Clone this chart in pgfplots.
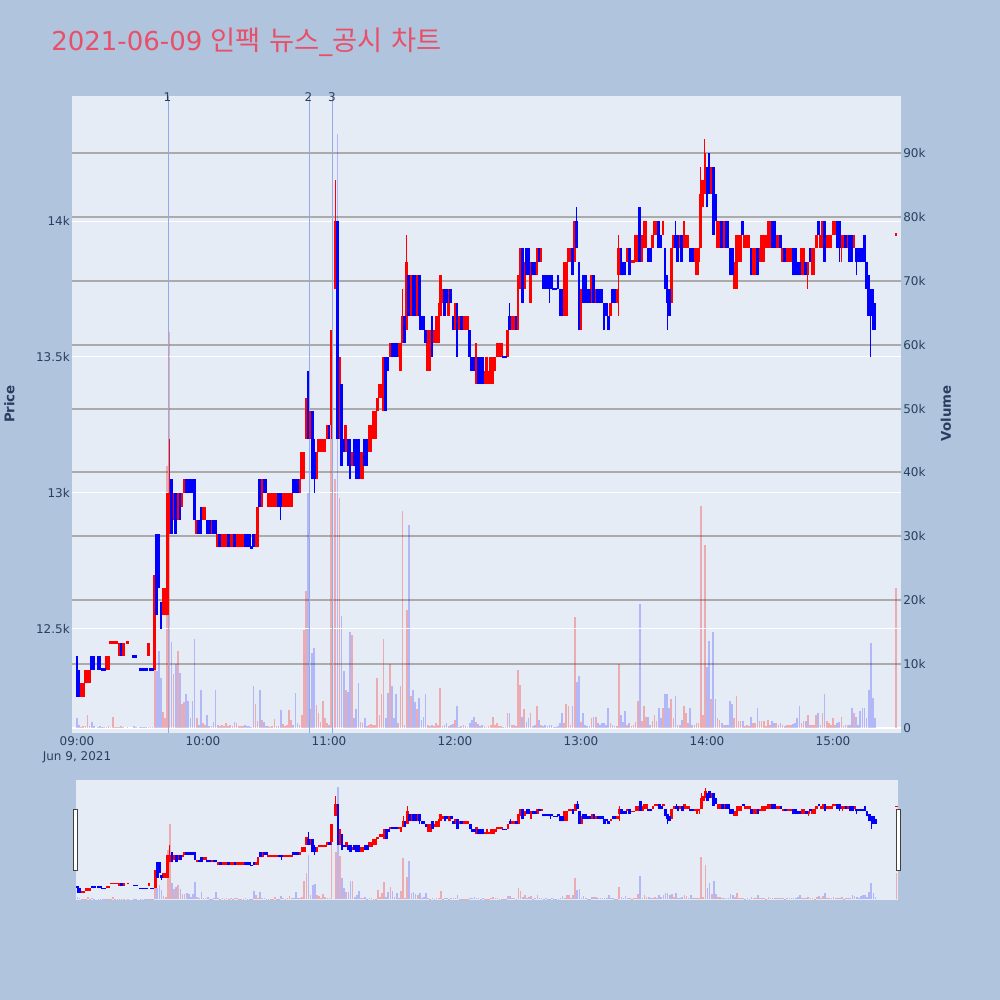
\documentclass[border=0pt]{standalone}
\usepackage{pgfplots}
\pgfplotsset{compat=1.18}
\usepackage{pgfplotstable}
\usepackage{fontspec}
\setmainfont{DejaVu Sans}
\newfontfamily\cjk{Noto Sans CJK KR}
\definecolor{paper}{HTML}{B0C4DE}
\definecolor{plotbg}{HTML}{E5ECF6}
\definecolor{tickc}{HTML}{2A3F5F}
\definecolor{gridg}{HTML}{ABABAB}
\definecolor{titlec}{HTML}{E8506A}
\definecolor{vlinec}{HTML}{94AAE6}
\definecolor{upc}{HTML}{FF0000}
\definecolor{dnc}{HTML}{0000FF}

\pgfplotstableread{
t o h l c d v
0 12400 12400 12250 12350 -1 1.5
1 12350 12350 12250 12250 -1 0.5
2 12250 12300 12250 12300 1 0.2
3 12250 12300 12250 12300 1 0.3
4 12300 12350 12300 12350 1 0.3
5 12300 12350 12300 12350 1 2.0
6 12300 12350 12300 12350 1 0.3
7 12400 12400 12350 12350 -1 1.0
8 12400 12400 12350 12350 -1 0.3
10 12400 12400 12350 12350 -1 0.2
11 12400 12400 12350 12350 -1 0.3
12 12350 12350 12350 12350 -1 0.1
13 12350 12350 12350 12350 -1 0.1
14 12350 12400 12350 12400 1 0.2
15 12350 12400 12350 12400 1 0.3
16 12450 12450 12450 12450 1 0.1
17 12450 12450 12450 12450 1 1.8
18 12450 12450 12450 12450 1 0.1
19 12450 12450 12450 12450 1 0.1
20 12400 12450 12400 12450 1 0.2
21 12450 12450 12400 12400 -1 0.3
22 12400 12450 12400 12450 1 0.1
24 12450 12450 12450 12450 1 0.1
27 12400 12400 12400 12400 -1 0.3
28 12400 12400 12400 12400 -1 0.1
30 12350 12350 12350 12350 -1 0.1
31 12350 12350 12350 12350 -1 0.1
32 12350 12350 12350 12350 -1 0.1
33 12350 12350 12350 12350 -1 0.1
34 12400 12450 12400 12450 1 0.2
35 12350 12350 12350 12350 -1 0.1
36 12350 12350 12350 12350 -1 0.1
37 12350 12700 12350 12700 1 15
38 12850 12850 12550 12550 -1 9
39 12850 12850 12650 12650 -1 12
40 12600 12600 12500 12550 -1 7.8
41 12550 12650 12550 12650 1 2.5
42 12550 12650 12550 12650 1 1.5
43 12550 13000 12550 13000 1 41
44 12850 13200 12850 13000 1 62
45 13050 13050 12850 12850 -1 13.5
46 12900 13000 12900 13000 1 8.5
47 13000 13000 12850 12850 -1 10
48 12900 13000 12900 13000 1 12
49 13000 13000 12900 12900 -1 8.6
50 12950 13000 12950 13000 1 3.8
51 13000 13050 13000 13050 1 4
52 13050 13050 13000 13000 -1 5.4
53 13050 13050 13000 13000 -1 4.3
54 13050 13050 13000 13000 -1 1.5
55 13050 13050 13000 13000 -1 4.3
56 13050 13050 12900 12900 -1 14
57 12850 12900 12850 12900 1 1.5
58 12900 12900 12850 12850 -1 0.5
59 12950 12950 12850 12850 -1 6
60 12900 12950 12900 12950 1 0.8
61 12900 12950 12900 12950 1 0.5
62 12900 12900 12850 12850 -1 2
63 12900 12900 12850 12850 -1 0.3
64 12850 12900 12850 12900 1 0.3
65 12900 12900 12850 12850 -1 1.0
66 12900 12900 12850 12850 -1 6
67 12800 12850 12800 12850 1 0.5
68 12850 12850 12800 12800 -1 0.3
69 12800 12850 12800 12850 1 0.5
70 12800 12850 12800 12850 1 0.3
71 12800 12850 12800 12850 1 0.8
72 12850 12850 12800 12800 -1 0.3
73 12800 12850 12800 12850 1 0.5
74 12800 12850 12800 12850 1 0.3
75 12850 12850 12800 12800 -1 1.0
76 12800 12850 12800 12850 1 0.8
77 12800 12850 12800 12850 1 0.3
78 12800 12850 12800 12850 1 0.3
79 12800 12850 12800 12850 1 0.3
80 12850 12850 12800 12800 -1 0.5
81 12850 12850 12800 12800 -1 0.3
82 12850 12850 12800 12800 -1 0.3
83 12800 12800 12800 12800 -1 0.2
84 12850 12850 12800 12800 -1 6.6
85 12800 12850 12800 12850 1 3.7
86 12800 12950 12800 12950 1 1.1
87 13050 13050 12950 12950 -1 6
88 12950 13050 12950 13050 1 1.2
89 13050 13050 13000 13000 -1 0.9
90 13050 13050 13000 13000 -1 0.3
91 12950 13000 12950 13000 1 0.3
92 12950 13000 12950 13000 1 0.2
93 12950 13000 12950 13000 1 0.3
94 12950 13000 12950 13000 1 1.4
95 12950 13000 12950 13000 1 0.3
96 13000 13000 12950 12950 -1 0.3
97 13000 13000 12900 12950 -1 2.8
98 12950 13000 12950 13000 1 0.6
99 12950 13000 12950 13000 1 0.3
100 12950 13000 12950 13000 1 0.5
101 12950 13000 12950 13000 1 2.8
102 12950 13000 12950 13000 1 1.2
103 13050 13050 13000 13000 -1 0.5
104 13050 13050 13000 13000 -1 5.5
105 13050 13050 13000 13000 -1 0.8
106 13000 13050 13000 13050 1 0.5
107 13050 13150 13050 13150 1 2
108 13050 13150 13050 13150 1 15.3
109 13200 13350 13200 13350 1 21.5
110 13300 13450 13200 13200 -1 36.8
111 13200 13300 13200 13300 1 3
112 13300 13300 13050 13050 -1 11.7
113 13150 13200 13000 13050 -1 12.6
114 13050 13150 13050 13150 1 3.6
115 13150 13200 13150 13200 1 2.4
116 13150 13200 13150 13200 1 1
117 13150 13200 13150 13200 1 4.2
118 13150 13200 13150 13200 1 1.5
119 13200 13250 13200 13250 1 0.8
120 13250 13250 13200 13200 -1 0.5
121 13250 13600 13200 13600 1 55
123 13750 14150 13750 14000 1 39
124 14000 14000 13200 13200 -1 93
125 13200 13500 13200 13500 1 36
126 13400 13400 13100 13100 -1 17.5
127 13200 13200 13150 13150 -1 8.9
128 13150 13250 13150 13250 1 6
129 13200 13200 13100 13100 -1 5.6
130 13200 13200 13050 13050 -1 15
131 13100 13150 13100 13150 1 14.6
132 13200 13200 13100 13100 -1 1.5
133 13200 13200 13050 13050 -1 3
134 13200 13200 13050 13050 -1 7
135 13050 13150 13050 13150 1 1
136 13050 13150 13050 13150 1 0.8
137 13200 13200 13100 13100 -1 1.5
138 13200 13200 13100 13100 -1 0.3
139 13150 13250 13150 13250 1 0.5
140 13150 13250 13150 13250 1 0.6
141 13200 13300 13200 13300 1 0.4
142 13200 13300 13200 13300 1 0.4
143 13300 13350 13300 13350 1 7.9
144 13350 13400 13350 13400 1 2
145 13350 13400 13350 13400 1 5.3
146 13300 13500 13300 13500 1 14
147 13500 13500 13300 13300 -1 1.5
148 13500 13500 13450 13450 -1 5.5
149 13500 13550 13500 13550 1 10
150 13550 13550 13500 13500 -1 6.6
151 13550 13550 13500 13500 -1 1.5
152 13550 13550 13500 13500 -1 5.3
153 13500 13550 13500 13550 1 0.8
154 13450 13550 13450 13550 1 6.6
155 13550 13750 13550 13650 1 34
156 13650 13650 13550 13550 -1 0.5
157 13600 13950 13600 13850 1 18.5
158 13800 13800 13650 13650 -1 31.8
159 13650 13800 13650 13800 1 5
160 13800 13800 13650 13650 -1 6
161 13800 13800 13650 13650 -1 4
162 13650 13800 13650 13800 1 3
163 13800 13800 13600 13650 -1 4.7
164 13650 13650 13600 13600 -1 1.2
165 13650 13650 13600 13600 -1 1.8
166 13600 13600 13550 13550 -1 5.3
167 13450 13600 13450 13600 1 0.5
168 13450 13600 13450 13600 1 0.3
169 13650 13650 13500 13500 -1 0.5
170 13550 13600 13550 13600 1 0.3
171 13550 13650 13550 13650 1 0.8
172 13550 13700 13550 13650 1 0.5
173 13650 13800 13650 13800 1 6.3
174 13700 13750 13700 13750 1 0.3
175 13750 13750 13650 13650 -1 0.5
176 13750 13750 13700 13700 -1 0.8
177 13650 13750 13650 13750 1 0.3
178 13750 13750 13700 13700 -1 0.5
179 13650 13650 13600 13600 -1 0.6
180 13600 13700 13600 13700 1 1.2
181 13700 13700 13500 13500 -1 3.4
182 13600 13650 13600 13650 1 0.2
183 13650 13650 13600 13600 -1 0.3
184 13600 13650 13600 13650 1 0.4
185 13600 13650 13600 13650 1 0.3
186 13600 13650 13600 13650 1 0.2
187 13600 13600 13500 13500 -1 0.8
188 13500 13500 13450 13450 -1 1.2
189 13500 13500 13450 13450 -1 1.7
190 13400 13550 13400 13550 1 1
191 13500 13500 13400 13400 -1 0.6
192 13500 13500 13400 13400 -1 0.3
193 13500 13500 13400 13400 -1 0.5
194 13400 13450 13400 13450 1 0.3
195 13400 13500 13400 13500 1 0.2
196 13400 13450 13400 13450 1 0.3
197 13400 13500 13400 13500 1 0.5
198 13400 13500 13400 13500 1 1.8
199 13450 13500 13450 13500 1 0.5
200 13500 13550 13500 13550 1 0.8
201 13500 13550 13500 13550 1 0.3
202 13500 13550 13500 13550 1 0.3
203 13500 13500 13500 13500 -1 0.2
204 13500 13500 13500 13500 -1 0.2
205 13500 13600 13500 13600 1 2.4
206 13650 13700 13600 13600 -1 2.4
207 13600 13650 13600 13650 1 0.5
208 13600 13650 13600 13650 1 0.5
209 13650 13650 13600 13600 -1 0.3
210 13600 13800 13600 13800 1 9.1
211 13750 13900 13750 13900 1 6.8
212 13900 13900 13700 13700 -1 1.8
213 13750 13850 13750 13850 1 3
214 13900 13900 13800 13800 -1 1
215 13900 13900 13800 13800 -1 1.5
216 13700 13850 13700 13850 1 2.3
217 13850 13850 13800 13800 -1 0.3
218 13850 13850 13800 13800 -1 0.5
219 13800 13900 13800 13900 1 3.4
220 13900 13900 13850 13850 -1 1.2
221 13850 13900 13850 13900 1 0.5
222 13800 13800 13750 13750 -1 0.3
223 13800 13800 13750 13750 -1 0.5
224 13800 13800 13750 13750 -1 0.3
225 13800 13800 13700 13750 -1 0.4
226 13800 13800 13750 13750 -1 0.5
227 13750 13750 13750 13750 -1 0.2
228 13750 13750 13750 13750 -1 0.2
229 13800 13800 13750 13750 -1 0.3
230 13750 13750 13650 13650 -1 0.8
231 13750 13750 13650 13650 -1 2.4
232 13650 13850 13650 13850 1 0.8
233 13650 13850 13650 13850 1 3.7
234 13850 13900 13850 13900 1 3.4
235 13850 13900 13850 13900 1 0.5
236 13900 13900 13800 13800 -1 3.4
237 13850 14000 13850 14000 1 17.4
238 14000 14050 13900 13900 -1 7.2
239 13850 13850 13600 13600 -1 8.2
240 13600 13750 13600 13750 1 1
241 13800 13800 13700 13700 -1 2.4
242 13800 13800 13700 13700 -1 0.5
243 13750 13750 13700 13700 -1 0.3
244 13750 13750 13700 13700 -1 0.3
245 13700 13800 13700 13800 1 1.5
246 13800 13800 13700 13700 -1 1.8
247 13700 13750 13700 13750 1 1.8
248 13750 13750 13700 13700 -1 0.8
249 13750 13750 13700 13700 -1 0.5
250 13750 13750 13700 13700 -1 0.8
251 13700 13700 13600 13600 -1 0.8
252 13700 13700 13650 13650 -1 0.5
253 13650 13650 13600 13600 -1 3.1
254 13650 13700 13650 13700 1 0.8
255 13750 13750 13700 13700 -1 0.5
256 13750 13750 13700 13700 -1 0.3
257 13700 13750 13700 13750 1 0.3
258 13800 13950 13650 13900 1 10
259 13900 13900 13800 13800 -1 2
260 13850 13850 13800 13800 -1 1
261 13850 13850 13800 13800 -1 2.7
262 13850 13900 13850 13900 1 0.5
263 13900 13900 13800 13800 -1 0.8
264 13850 13850 13850 13850 1 0.3
265 13850 13850 13850 13850 1 0.5
266 13850 13950 13850 13950 1 1
267 13850 13950 13850 13950 1 4.3
268 14050 14050 13850 13850 -1 19.4
269 13850 13950 13850 13950 1 1.1
270 13900 14000 13900 14000 1 3.4
271 13900 14000 13900 14000 1 1.8
272 13900 13900 13850 13850 -1 1.8
273 13900 13900 13850 13850 -1 0.5
274 13900 13950 13900 13950 1 1.1
275 13950 14000 13950 14000 1 2.1
276 13950 14000 13950 14000 1 1.1
277 14000 14000 13900 13900 -1 3.1
278 13950 13950 13900 13900 -1 1.5
279 13950 14000 13950 14000 1 3.1
280 13900 13900 13750 13750 -1 5.3
281 13800 13800 13600 13700 -1 5.3
282 13750 13750 13650 13650 -1 3.1
283 13700 13900 13700 13900 1 4.6
284 13900 13950 13900 13950 1 1.5
285 13950 14000 13900 13900 -1 5
286 13950 13950 13850 13850 -1 0.5
287 13900 13950 13900 13950 1 0.5
288 13950 13950 13850 13850 -1 1.3
289 13900 14000 13900 14000 1 3.4
290 13900 13950 13900 13950 1 2.4
291 13900 13950 13900 13950 1 0.8
292 13900 13900 13850 13850 -1 3.1
293 13900 13900 13850 13850 -1 0.5
294 13850 13900 13850 13900 1 0.5
295 13800 13900 13800 13900 1 0.8
296 13850 13900 13800 13900 1 0.8
297 13900 14200 13900 14100 1 34.7
298 14050 14150 14050 14150 1 2.1
299 14100 14300 14100 14250 1 28.6
300 14200 14200 14050 14050 -1 9.5
301 14250 14250 14100 14100 -1 13.6
302 14100 14200 14100 14200 1 4.6
303 14200 14200 13950 13950 -1 15
304 14100 14100 14000 14000 -1 4.6
305 13900 14000 13900 14000 1 1.5
306 13900 14000 13900 14000 1 1.3
307 14000 14000 13900 13900 -1 0.8
308 13900 14000 13900 14000 1 0.5
309 14000 14000 13900 13900 -1 0.5
310 14000 14000 13900 13900 -1 0.5
311 13900 13900 13800 13800 -1 4.3
312 13900 13900 13800 13800 -1 3.7
313 13750 13850 13750 13850 1 1.5
314 13750 13950 13750 13950 1 5
315 13850 13950 13850 13950 1 1.1
316 13850 13950 13850 13950 1 1.1
317 14000 14000 13950 13950 -1 1.1
318 13900 13950 13900 13950 1 0.3
319 13900 13950 13900 13950 1 0.5
320 13900 13950 13900 13950 1 0.3
321 13900 13900 13800 13800 -1 1.8
322 13800 13900 13800 13900 1 0.8
323 13800 13900 13800 13900 1 0.8
324 13900 13900 13800 13800 -1 3.1
325 13850 13900 13850 13900 1 1.1
326 13850 13950 13850 13950 1 1.1
327 13850 13950 13850 13950 1 1.1
328 13900 13950 13900 13950 1 0.3
329 13900 14000 13900 14000 1 1.3
330 13900 14000 13900 14000 1 0.5
331 14000 14000 13900 13900 -1 1.1
332 14000 14000 13900 13900 -1 0.8
333 13900 13950 13900 13950 1 0.8
334 13900 13950 13900 13950 1 0.5
335 13950 13950 13900 13900 -1 0.8
336 13850 13900 13850 13900 1 0.5
337 13900 13900 13850 13850 -1 0.3
338 13850 13900 13850 13900 1 0.5
339 13850 13900 13850 13900 1 0.5
340 13850 13900 13850 13900 1 0.5
341 13900 13900 13800 13800 -1 0.6
342 13900 13900 13800 13800 -1 0.8
343 13850 13850 13800 13800 -1 1.5
344 13850 13850 13800 13800 -1 3.4
345 13800 13900 13800 13900 1 0.8
346 13800 13900 13800 13900 1 1.1
347 13850 13850 13800 13800 -1 1.1
348 13800 13850 13750 13850 1 2.1
349 13900 13900 13850 13850 -1 0.5
350 13800 13900 13800 13900 1 0.5
351 13800 13900 13800 13900 1 0.4
352 13900 13950 13900 13950 1 2.1
353 14000 14000 13950 13950 -1 2.3
354 13900 13950 13900 13950 1 0.5
355 13900 14000 13900 14000 1 2.3
356 14000 14000 13850 13850 -1 5.3
357 13900 13950 13900 13950 1 1.1
358 13900 13950 13900 13950 1 0.8
359 13900 13950 13900 13950 1 0.5
360 13950 14000 13950 14000 1 1.6
361 13950 14000 13950 14000 1 0.5
362 14000 14000 13900 13900 -1 0.8
363 14000 14000 13850 13900 -1 1
364 13900 13950 13850 13950 1 1.8
365 13900 13950 13900 13950 1 0.3
366 13950 13950 13900 13900 -1 0.5
367 13900 13950 13900 13950 1 0.5
368 13950 13950 13850 13850 -1 0.5
369 13950 13950 13850 13850 -1 3.1
370 13900 13950 13900 13950 1 2.4
371 13900 13900 13800 13850 -1 1.8
372 13900 13900 13850 13850 -1 0.5
373 13900 13900 13850 13850 -1 2.7
374 13900 13900 13850 13850 -1 3.1
375 13950 13950 13850 13850 -1 3.1
376 13850 13850 13750 13750 -1 1.5
377 13800 13800 13650 13650 -1 6
378 13750 13750 13500 13650 -1 13.3
379 13750 13750 13600 13600 -1 4.7
380 13700 13700 13600 13600 -1 1.5
390 13950 13950 13950 13950 1 21.9
}\mydata

% ---- build one segment list per colour from the OHLC table
\def\wup{}\def\wdn{}\def\bup{}\def\bdn{}\def\vup{}\def\vdn{}
\pgfplotstablegetrowsof{\mydata}
\pgfmathtruncatemacro\lastrow{\pgfplotsretval-1}
\pgfplotsforeachungrouped \i in {0,...,\lastrow}{%
  \pgfplotstablegetelem{\i}{t}\of\mydata\edef\Ct{\pgfplotsretval}%
  \pgfplotstablegetelem{\i}{o}\of\mydata\edef\Co{\pgfplotsretval}%
  \pgfplotstablegetelem{\i}{h}\of\mydata\edef\Ch{\pgfplotsretval}%
  \pgfplotstablegetelem{\i}{l}\of\mydata\edef\Cl{\pgfplotsretval}%
  \pgfplotstablegetelem{\i}{c}\of\mydata\edef\Cc{\pgfplotsretval}%
  \pgfplotstablegetelem{\i}{d}\of\mydata\edef\Cd{\pgfplotsretval}%
  \pgfplotstablegetelem{\i}{v}\of\mydata\edef\Cv{\pgfplotsretval}%
  \ifnum\Co=\Cc\relax
    \edef\Bl{\the\numexpr\Co-5\relax}\edef\Bh{\the\numexpr\Co+5\relax}%
  \else\ifnum\Co<\Cc\relax
    \edef\Bl{\Co}\edef\Bh{\Cc}%
  \else
    \edef\Bl{\Cc}\edef\Bh{\Co}%
  \fi\fi
  \ifnum\Cd>0\relax
    \edef\wup{\wup (\Ct,\Cl) (\Ct,\Ch) (\Ct,nan)}%
    \edef\bup{\bup (\Ct,\Bl) (\Ct,\Bh) (\Ct,nan)}%
    \edef\vup{\vup (\Ct,0) (\Ct,\Cv) (\Ct,nan)}%
  \else
    \edef\wdn{\wdn (\Ct,\Cl) (\Ct,\Ch) (\Ct,nan)}%
    \edef\bdn{\bdn (\Ct,\Bl) (\Ct,\Bh) (\Ct,nan)}%
    \edef\vdn{\vdn (\Ct,0) (\Ct,\Cv) (\Ct,nan)}%
  \fi
}
\newcommand{\segplot}[2]{\edef\tmpplot{\noexpand\addplot[#1, unbounded coords=jump, no marks] coordinates {#2};}\tmpplot}
\newcommand{\candleplots}[2]{%
  \segplot{upc, line width=#1}{\wup}%
  \segplot{dnc, line width=#1}{\wdn}%
  \segplot{upc, line width=#2}{\bup}%
  \segplot{dnc, line width=#2}{\bdn}%
}
\newcommand{\volumeplots}[1]{%
  \segplot{upc, opacity=0.28, line width=#1}{\vup}%
  \segplot{dnc, opacity=0.22, line width=#1}{\vdn}%
}

\pgfplotsset{
  base/.style={scale only axis, anchor=south west, scaled ticks=false,
    axis line style={draw=none}, tick style={draw=none}, major tick length=0pt,
    tick label style={font=\fontsize{9}{10.9}\selectfont, text=tickc}},
}

\begin{document}
\begin{tikzpicture}
\fill[paper] (0pt,0pt) rectangle (750pt,750pt);

% ---------- main: volume axis (background, gray grid, bars)
\begin{axis}[base, at={(54pt,200.25pt)}, width=621.75pt, height=477.75pt,
  xmin=-2.38, xmax=392.38, ymin=-0.78, ymax=98.92,
  axis background/.style={fill=plotbg},
  xtick=\empty,
  ytick={10,20,30,40,50,60,70,80,90},
  yticklabels={10k,20k,30k,40k,50k,60k,70k,80k,90k},
  extra y ticks={0}, extra y tick labels={0},
  extra y tick style={grid=major, major grid style={white, line width=1.5pt}},
  ymajorgrids, major grid style={gridg, line width=1.5pt},
  yticklabel pos=right,
  yticklabel style={anchor=west, inner sep=0pt, xshift=1.5pt},
  ]
  \volumeplots{1.3pt}
\end{axis}

% ---------- main: price axis
\begin{axis}[base, at={(54pt,200.25pt)}, width=621.75pt, height=477.75pt,
  xmin=-2.38, xmax=392.38, ymin=12117.6, ymax=14459.6,
  xtick={0,60,120,180,240,300,360},
  xticklabels={{09:00\\Jun 9, 2021},10:00,11:00,12:00,13:00,14:00,15:00},
  xticklabel style={align=center, anchor=north, inner sep=0pt, yshift=-2.8pt},
  ytick={12500,13000,13500,14000},
  yticklabels={12.5k,13k,13.5k,14k},
  yticklabel style={anchor=east, inner sep=0pt, xshift=-1.5pt},
  ymajorgrids, major grid style={white, line width=0.75pt},
  ]
  \addplot[vlinec, line width=0.8pt] coordinates {(43.5,12117.6) (43.5,14459.6)};
  \addplot[vlinec, line width=0.8pt] coordinates {(110.6,12117.6) (110.6,14459.6)};
  \addplot[vlinec, line width=0.8pt] coordinates {(121.6,12117.6) (121.6,14459.6)};
  \candleplots{0.8pt}{2.0pt}
\end{axis}

% ---------- range slider
\begin{axis}[base, at={(57pt,75pt)}, width=616.5pt, height=90pt,
  xmin=-0.7, xmax=390.7, ymin=-0.78, ymax=98.92,
  axis background/.style={fill=plotbg},
  xtick=\empty, ytick=\empty]
  \volumeplots{1.3pt}
\end{axis}
\begin{axis}[base, at={(57pt,75pt)}, width=616.5pt, height=90pt,
  xmin=-0.7, xmax=390.7, ymin=12117.6, ymax=14459.6,
  xtick=\empty, ytick=\empty]
  \candleplots{0.6pt}{2.0pt}
\end{axis}

% handles
\draw[fill=white, draw=black!75, line width=0.75pt] (55pt,97pt) rectangle (58.3pt,142.5pt);
\draw[fill=white, draw=black!75, line width=0.75pt] (672pt,97pt) rectangle (675.3pt,142.5pt);

% news marker labels
\node[font=\fontsize{9}{10.9}\selectfont, text=tickc, inner sep=0pt] at (125.6pt,677.5pt) {1};
\node[font=\fontsize{9}{10.9}\selectfont, text=tickc, inner sep=0pt] at (231.4pt,677.5pt) {2};
\node[font=\fontsize{9}{10.9}\selectfont, text=tickc, inner sep=0pt] at (249pt,677.5pt) {3};

% title and axis titles
\node[anchor=base west, inner sep=0pt, text=titlec, font=\fontsize{19.5}{23}\selectfont]
  at (38.25pt,712pt) {2021-06-09 {\cjk\fontsize{20.5}{23}\selectfont 인팩} {\cjk\fontsize{20.5}{23}\selectfont 뉴스}\_{\cjk\fontsize{20.5}{23}\selectfont 공시} {\cjk\fontsize{20.5}{23}\selectfont 차트}};
\node[rotate=90, inner sep=0pt, text=tickc, font=\bfseries\fontsize{10}{12}\selectfont] at (7pt,447pt) {Price};
\node[rotate=90, inner sep=0pt, text=tickc, font=\bfseries\fontsize{10}{12}\selectfont] at (709.5pt,440pt) {Volume};

\pgfresetboundingbox
\path (0pt,0pt) rectangle (750pt,750pt);
\end{tikzpicture}
\end{document}
